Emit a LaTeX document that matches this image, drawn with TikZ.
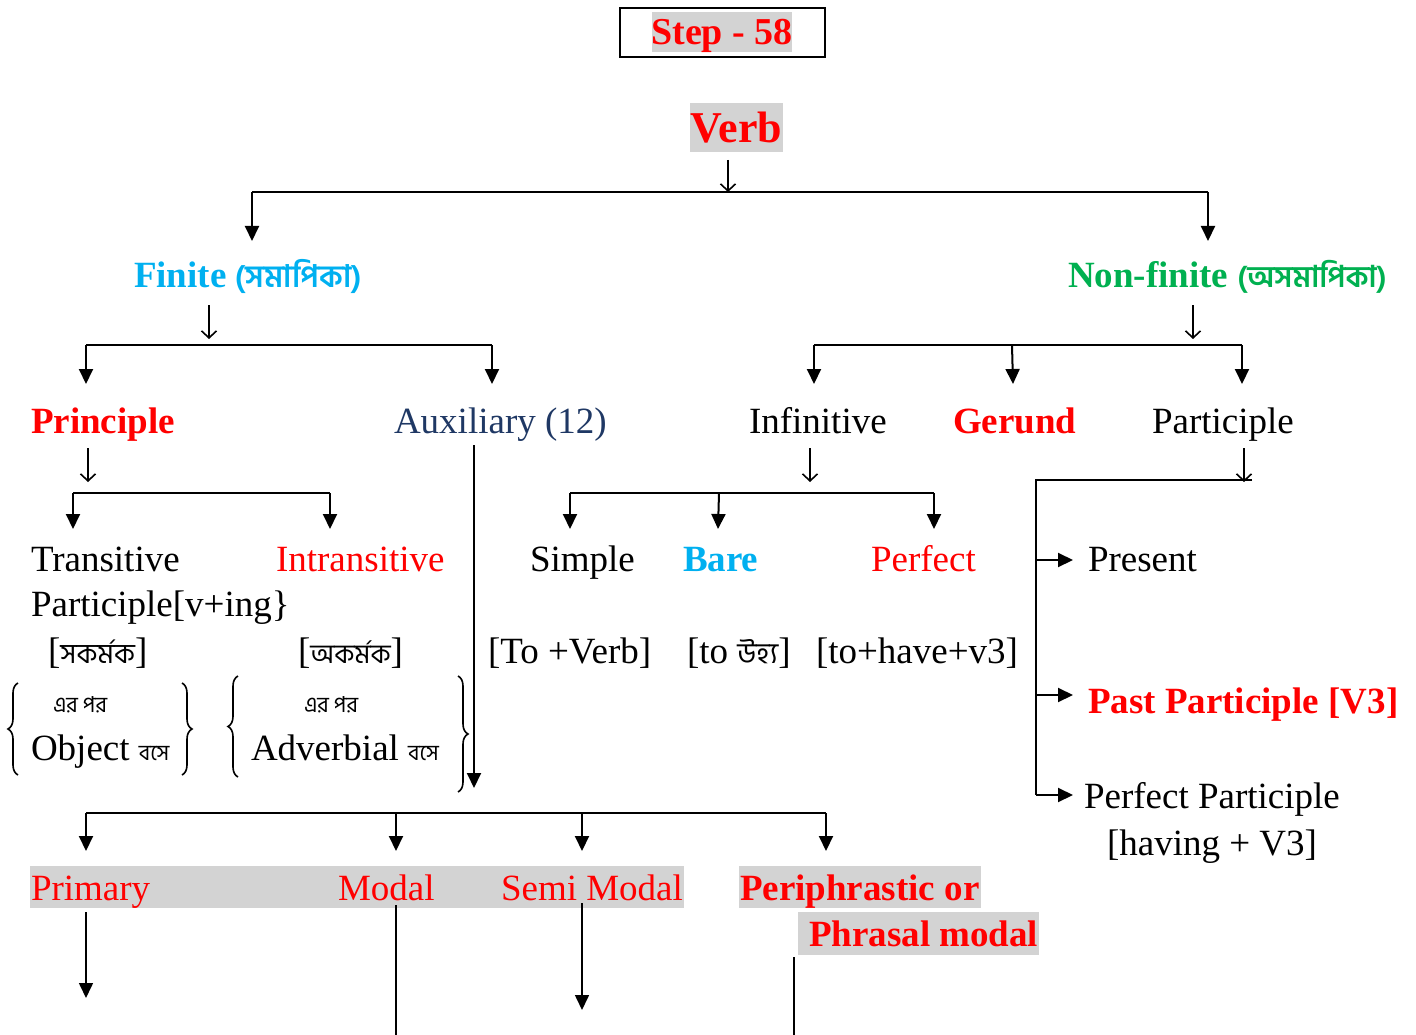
\documentclass[tikz,border=0pt]{standalone}
\usepackage{fontspec}
\setmainfont{Liberation Serif}
\newfontfamily\bn[Script=Bengali]{Hind Siliguri}
\usetikzlibrary{arrows.meta,decorations.pathreplacing}
\definecolor{cyanF}{HTML}{00B0F0}
\definecolor{greenN}{HTML}{00B050}
\definecolor{navyA}{HTML}{1F3864}
\definecolor{hl}{HTML}{D3D3D3}
\definecolor{redT}{HTML}{FF0000}
\begin{document}
\begin{tikzpicture}[x=1pt,y=-1pt,line width=2pt,
  txt/.style={inner sep=0pt,anchor=base west,font=\fontsize{37}{44}\selectfont},
  bftxt/.style={inner sep=0pt,anchor=base west,font=\fontsize{37}{44}\selectfont\bfseries},
  smallbn/.style={inner sep=0pt,anchor=base west,font=\fontsize{22}{26}\selectfont\bn},
  arr/.style={-{Triangle[length=15pt,width=14pt]}},
  barb/.style={-{Straight Barb[length=7pt,width=15pt]},line width=1.6pt},
  brc/.style={decorate,decoration={brace,amplitude=10pt},line width=1.6pt}]
\useasboundingbox (0,0) rectangle (1416,1035);
% title
\draw[line width=2.2pt] (620,8) rectangle (825,57);
\fill[hl] (652,12) rectangle (792,52);
\node[inner sep=0pt,anchor=base,font=\fontsize{38}{44}\selectfont\bfseries,text=redT] (step) at (722,45) {Step - 58};
\fill[hl] (690,103) rectangle (783,152);
\node[inner sep=0pt,anchor=base,font=\fontsize{44}{50}\selectfont\bfseries,text=redT] (verb) at (736.5,143) {Verb};
% level 1
\node[bftxt,text=cyanF] (finite) at (133,287) {Finite {\fontsize{31}{36}\bn (সমাপিকা)}};
\node[bftxt,text=greenN] (nonfinite) at (1067,287) {Non-finite {\fontsize{30}{36}\bn (অসমাপিকা)}};
\coordinate (v0) at (728,160);
\coordinate (vj) at (728,192);
\draw[barb] (v0) -- (vj);
\draw (252,192) -- (1208,192);
\draw[arr] (252,192) -- (252,241);
\draw[arr] (1208,192) -- (1208,241);
% level 2
\node[bftxt,text=redT] (principle) at (30,433) {Principle};
\node[txt,text=navyA] (aux) at (393,433) {Auxiliary (12)};
\node[txt] (infinitive) at (748,433) {Infinitive};
\node[bftxt,text=redT] (gerund) at (952,433) {Gerund};
\node[txt] (participle) at (1151,433) {Participle};
\draw[barb] (209,305) -- (209,339);
\draw (86,345) -- (492,345);
\draw[arr] (86,345) -- (86,384);
\draw[arr] (492,345) -- (492,384);
\draw[barb] (1193,305) -- (1193,339);
\draw (814,345) -- (1242,345);
\draw[arr] (814,345) -- (814,384);
\draw[arr] (1012,345) -- (1013,384);
\draw[arr] (1242,345) -- (1242,384);
% principle branch
\draw[barb] (88,448) -- (88,482);
\draw (73,493) -- (330,493);
\draw[arr] (73,493) -- (73,529);
\draw[arr] (330,493) -- (330,529);
\node[txt] (trans) at (30,571) {Transitive};
\node[txt,text=redT] (intrans) at (275,571) {Intransitive};
\node[txt] (ping) at (30,616) {Participle[v+ing\}};
\node[txt] (sak) at (47,663) {[{\fontsize{28}{34}\bn সকর্মক}]};
\node[txt] (ak) at (297,663) {[{\fontsize{27}{34}\bn অকর্মক}]};
\node[smallbn] (erpor1) at (52,712) {এর পর};
\node[txt] (obj) at (30,760) {Object {\fontsize{22}{26}\bn বসে}};
\node[smallbn] (erpor2) at (303,712) {এর পর};
\node[txt] (adv) at (250,760) {Adverbial {\fontsize{22}{26}\bn বসে}};
\draw[brc] (18,775) -- (18,683);
\draw[brc] (182,683) -- (182,775);
\draw[brc] (238,777) -- (238,676);
\draw[brc] (458,676) -- (458,792);
% infinitive branch
\draw[barb] (810,448) -- (810,482);
\draw (570,493) -- (934,493);
\draw[arr] (570,493) -- (570,529);
\draw[arr] (719,493) -- (718,529);
\draw[arr] (934,493) -- (934,529);
\node[txt] (simple) at (529,571) {Simple};
\node[bftxt,text=cyanF] (bare) at (682,571) {Bare};
\node[txt,text=redT] (perfect) at (870,571) {Perfect};
\node[txt] (tov) at (487,663) {[To +Verb]};
\node[txt] (touh) at (686,663) {[to {\fontsize{29}{34}\bn উহ্য}]};
\node[txt] (tohave) at (815,663) {[to+have+v3]};
% participle branch
\draw[barb] (1244,448) -- (1244,482);
\draw (1252,480) -- (1036,480) -- (1036,795);
\draw[arr] (1036,560) -- (1073,560);
\draw[arr] (1036,695) -- (1073,695);
\draw[arr] (1036,795) -- (1073,795);
\node[txt] (present) at (1087,571) {Present};
\node[bftxt,text=redT] (past) at (1087,713) {Past Participle [V3]};
\node[txt] (perfp) at (1083,808) {Perfect Participle};
\node[txt] (having) at (1106,855) {[having + V3]};
% auxiliary branch
\draw[arr] (474,445) -- (474,788);
\draw (86,813) -- (826,813);
\draw[arr] (86,813) -- (86,851);
\draw[arr] (396,813) -- (396,851);
\draw[arr] (582,813) -- (582,851);
\draw[arr] (826,813) -- (826,851);
\fill[hl] (30,866) rectangle (684,908);
\fill[hl] (739,866) rectangle (981,908);
\fill[hl] (798,912) rectangle (1039,955);
\node[txt,text=redT] (primary) at (30,900) {Primary};
\node[txt,text=redT] (modal) at (337,900) {Modal};
\node[txt,text=redT] (semi) at (500,900) {Semi Modal};
\node[bftxt,text=redT] (peri) at (739,900) {Periphrastic or};
\node[bftxt,text=redT] (phrasal) at (808,946) {Phrasal modal};
\draw[arr,line width=1.6pt] (86,912) -- (86,998);
\draw[line width=1.6pt] (396,905) -- (396,1035);
\draw[arr,line width=1.6pt] (582,903) -- (582,1010);
\draw[line width=1.6pt] (794,957) -- (794,1035);
\end{tikzpicture}
\end{document}
